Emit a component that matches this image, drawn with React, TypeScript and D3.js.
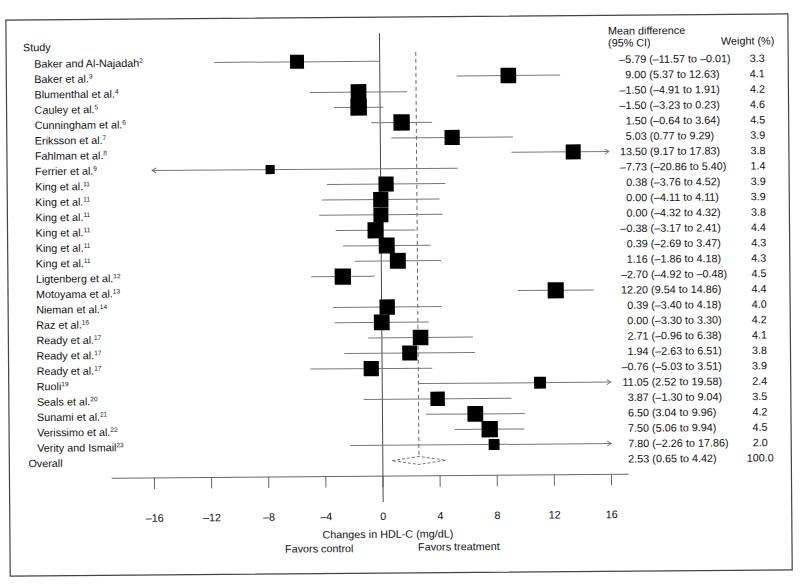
import React from "react";
import * as d3 from "d3";

// study labels, reference numbers, effect sizes (mg/dL) and weights
const studies = [
  "Baker and Al-Najadah", "Baker et al.", "Blumenthal et al.", "Cauley et al.",
  "Cunningham et al.", "Eriksson et al.", "Fahlman et al.", "Ferrier et al.",
  "King et al.", "King et al.", "King et al.", "King et al.", "King et al.", "King et al.",
  "Ligtenberg et al.", "Motoyama et al.", "Nieman et al.", "Raz et al.",
  "Ready et al.", "Ready et al.", "Ready et al.", "Ruoli", "Seals et al.",
  "Sunami et al.", "Verissimo et al.", "Verity and Ismail",
];
const refs = ["2", "3", "4", "5", "6", "7", "8", "9", "11", "11", "11", "11", "11", "11",
  "12", "13", "14", "16", "17", "17", "17", "19", "20", "21", "22", "23"];
const means = [-5.79, 9.0, -1.5, -1.5, 1.5, 5.03, 13.5, -7.73, 0.38, 0.0, 0.0, -0.38, 0.39, 1.16,
  -2.7, 12.2, 0.39, 0.0, 2.71, 1.94, -0.76, 11.05, 3.87, 6.5, 7.5, 7.8];
const lowers = [-11.57, 5.37, -4.91, -3.23, -0.64, 0.77, 9.17, -20.86, -3.76, -4.11, -4.32, -3.17, -2.69, -1.86,
  -4.92, 9.54, -3.4, -3.3, -0.96, -2.63, -5.03, 2.52, -1.3, 3.04, 5.06, -2.26];
const uppers = [-0.01, 12.63, 1.91, 0.23, 3.64, 9.29, 17.83, 5.4, 4.52, 4.11, 4.32, 2.41, 3.47, 4.18,
  -0.48, 14.86, 4.18, 3.3, 6.38, 6.51, 3.51, 19.58, 9.04, 9.96, 9.94, 17.86];
const weights = [3.3, 4.1, 4.2, 4.6, 4.5, 3.9, 3.8, 1.4, 3.9, 3.9, 3.8, 4.4, 4.3, 4.3,
  4.5, 4.4, 4.0, 4.2, 4.1, 3.8, 3.9, 2.4, 3.5, 4.2, 4.5, 2.0];

const overallMean = 2.53;
const overallLower = 0.65;
const overallUpper = 4.42;
const overallWeight = 100.0;

const xTicks = [-16, -12, -8, -4, 0, 4, 8, 12, 16];

const W = 800;
const H = 585;
const FONT = "'Liberation Sans', Arial, Helvetica, sans-serif";
const FS = 10.8;
const CI_COLOR = "#777";

const fmt = (v: number) => v.toFixed(2).replace("-", "\u2013");

export default function App() {
  const x = d3.scaleLinear().domain([-16, 16]).range([153, 610]);
  const y = d3.scaleLinear().domain([0, studies.length]).range([61, 460.6]);
  const side = d3.scaleSqrt().domain([0, 4.6]).range([0, 16.5]);

  const axisY = 476;
  const overallY = y(studies.length);
  const chevron = (px: number, py: number, dir: number) =>
    `M${px - dir * 4},${py - 2.5}L${px},${py}L${px - dir * 4},${py + 2.5}`;

  const diamond = d3.line()([
    [x(overallLower), overallY],
    [x(overallMean), overallY - 4],
    [x(overallUpper), overallY],
    [x(overallMean), overallY + 4],
    [x(overallLower), overallY],
  ]);

  return (
    <svg width={W} height={H} style={{ position: "absolute", left: 0, top: 0, background: "#fff" }}
      fontFamily={FONT} fontSize={FS}>
      <g transform="rotate(-0.45 400 290)">
        <rect x={8} y={17} width={782} height={556} fill="none" stroke="#444" strokeWidth={1.2} />

        {/* reference lines */}
        <line x1={x(0)} x2={x(0)} y1={33} y2={502} stroke="#333" strokeWidth={0.9} />
        <line x1={x(overallMean)} x2={x(overallMean)} y1={52} y2={overallY - 4}
          stroke="#555" strokeWidth={0.9} strokeDasharray="4,3" />

        {/* headers */}
        <text x={25} y={44.5} dy="0.35em" fill="#111">Study</text>
        <text x={610} y={32.5} dy="0.35em" fill="#111">Mean difference</text>
        <text x={610} y={44.5} dy="0.35em" fill="#111">(95% CI)</text>
        <text x={723} y={43.5} dy="0.35em" fill="#111">Weight (%)</text>

        {studies.map((s, i) => {
          const cy = y(i);
          const lo = Math.max(lowers[i], -16);
          const hi = Math.min(uppers[i], 16);
          const sz = side(weights[i]);
          return (
            <g key={i}>
              <text x={36} y={cy} dy="0.35em" fill="#111">
                {s}
                <tspan fontSize={6.5} dy={-4}>{refs[i]}</tspan>
              </text>
              <line x1={x(lo)} x2={x(hi)} y1={cy} y2={cy} stroke={CI_COLOR} strokeWidth={1} />
              {lowers[i] < -16 && (
                <path d={chevron(x(-16), cy, -1)} fill="none" stroke={CI_COLOR} strokeWidth={1} />
              )}
              {uppers[i] > 16 && (
                <path d={chevron(x(16), cy, 1)} fill="none" stroke={CI_COLOR} strokeWidth={1} />
              )}
              <rect x={x(means[i]) - sz / 2} y={cy - sz / 2} width={sz} height={sz} fill="#000" />
              <text x={648} y={cy} dy="0.35em" textAnchor="end" fill="#111">{fmt(means[i])}</text>
              <text x={651} y={cy} dy="0.35em" fill="#111">
                ({fmt(lowers[i])} to {fmt(uppers[i])})
              </text>
              <text x={759} y={cy} dy="0.35em" textAnchor="middle" fill="#111">{weights[i].toFixed(1)}</text>
            </g>
          );
        })}

        {/* overall */}
        <text x={27} y={overallY} dy="0.35em" fill="#111">Overall</text>
        <path d={diamond || ""} fill="none" stroke="#666" strokeWidth={0.9} strokeDasharray="3,2" />
        <text x={648} y={overallY} dy="0.35em" textAnchor="end" fill="#111">{fmt(overallMean)}</text>
        <text x={651} y={overallY} dy="0.35em" fill="#111">
          ({fmt(overallLower)} to {fmt(overallUpper)})
        </text>
        <text x={759} y={overallY} dy="0.35em" textAnchor="middle" fill="#111">{overallWeight.toFixed(1)}</text>

        {/* x axis */}
        <line x1={x(-19)} x2={x(17.2)} y1={axisY} y2={axisY} stroke="#555" strokeWidth={0.9} />
        {xTicks.map((t) => (
          <g key={t}>
            <line x1={x(t)} x2={x(t)} y1={axisY} y2={axisY + 11} stroke="#555" strokeWidth={0.9} />
            <text x={x(t)} y={516} dy="0.35em" textAnchor="middle" fill="#111">
              {String(t).replace("-", "\u2013")}
            </text>
          </g>
        ))}
        <text x={386} y={534} dy="0.35em" textAnchor="middle" fill="#111">Changes in HDL-C (mg/dL)</text>
        <text x={283} y={548} dy="0.35em" fill="#111">Favors control</text>
        <text x={416} y={547} dy="0.35em" fill="#111">Favors treatment</text>
      </g>
    </svg>
  );
}
